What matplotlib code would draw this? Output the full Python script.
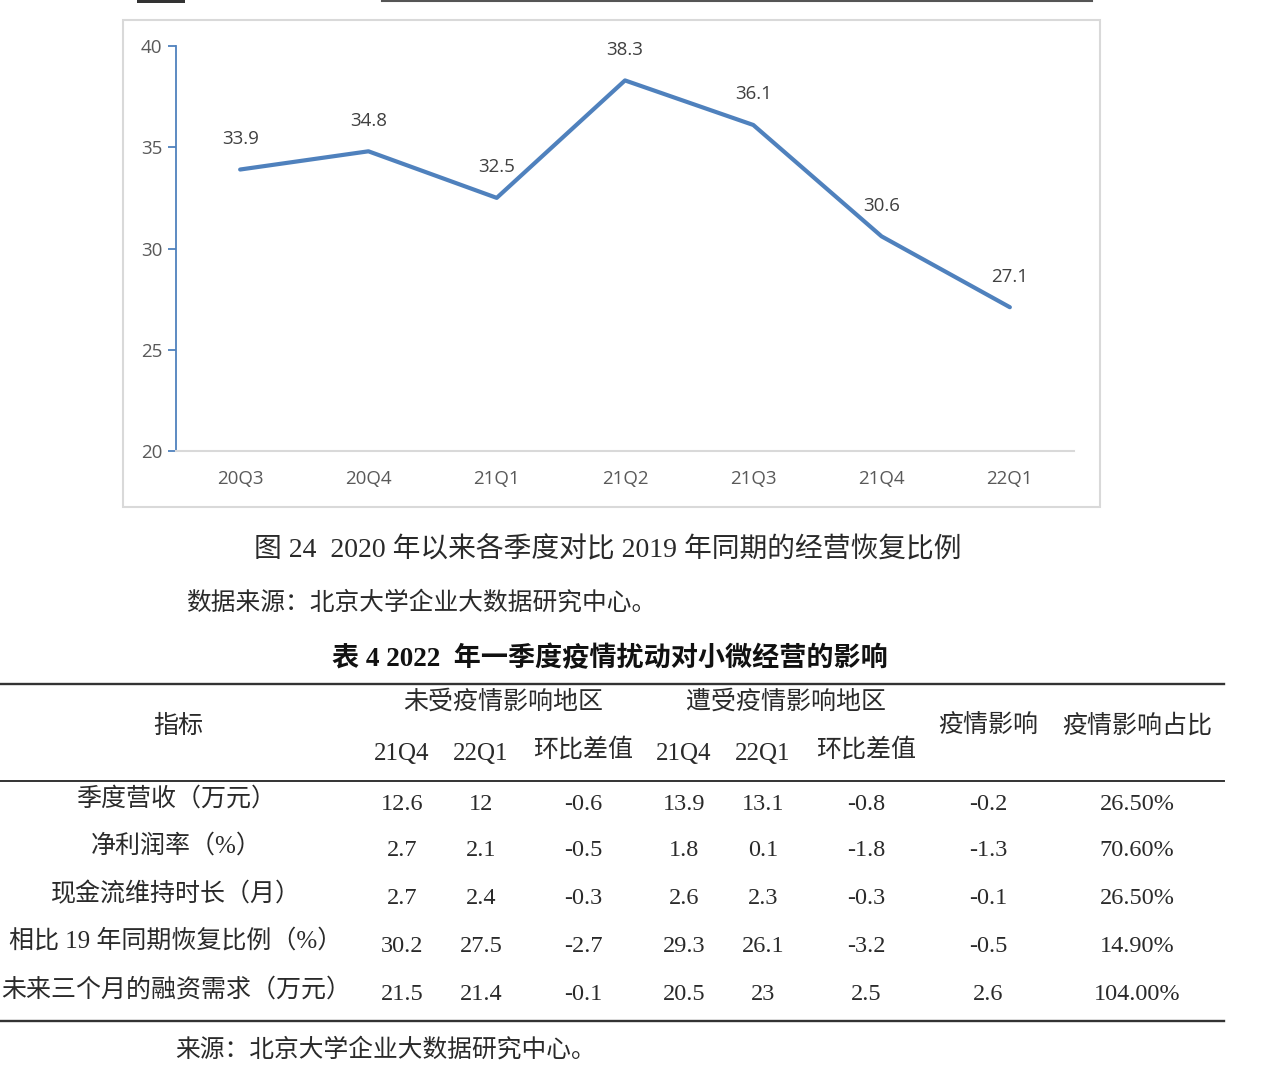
import matplotlib
matplotlib.use("Agg")
import matplotlib.pyplot as plt
from matplotlib.patches import Rectangle

plt.rcParams['font.family'] = ['Liberation Serif', 'Noto Sans CJK SC', 'DejaVu Sans']

# chart data (recovery ratio vs same quarter of 2019)
quarters = ["20Q3", "20Q4", "21Q1", "21Q2", "21Q3", "21Q4", "22Q1"]
recovery = [33.9, 34.8, 32.5, 38.3, 36.1, 30.6, 27.1]
y_ticks = [20, 25, 30, 35, 40]

# table data
row_labels = ["季度营收（万元）", "净利润率（%）", "现金流维持时长（月）",
              "相比 19 年同期恢复比例（%）", "未来三个月的融资需求（万元）"]
group_headers = ["未受疫情影响地区", "遭受疫情影响地区"]
sub_headers = ["21Q4", "22Q1", "环比差值"]
unaffected_21q4 = ["12.6", "2.7", "2.7", "30.2", "21.5"]
unaffected_22q1 = ["12", "2.1", "2.4", "27.5", "21.4"]
unaffected_diff = ["-0.6", "-0.5", "-0.3", "-2.7", "-0.1"]
affected_21q4 = ["13.9", "1.8", "2.6", "29.3", "20.5"]
affected_22q1 = ["13.1", "0.1", "2.3", "26.1", "23"]
affected_diff = ["-0.8", "-1.8", "-0.3", "-3.2", "2.5"]
impact = ["-0.2", "-1.3", "-0.1", "-0.5", "2.6"]
impact_share = ["26.50%", "70.60%", "26.50%", "14.90%", "104.00%"]

W, H = 1267, 1080
TXT = "#2a2a2a"
BLUE = "#4f81bd"

fig = plt.figure(figsize=(W / 100, H / 100), dpi=100)
fig.patch.set_facecolor("white")

# page overlay in pixel coords
page = fig.add_axes([0, 0, 1, 1])
page.set_xlim(0, W)
page.set_ylim(H, 0)
page.axis("off")

# cut-off line from the previous page element
page.add_patch(Rectangle((137, 0), 48, 3, color="#333333", lw=0))
page.plot([382, 1092], [1, 1], color="#555555", lw=1.5)

# chart frame
page.add_patch(Rectangle((123, 20), 977, 487, fill=False, ec="#d9d9d9", lw=1.5))

# line chart
ax = fig.add_axes([176 / W, (H - 451) / H, (1074 - 176) / W, (451 - 46) / H])
x = list(range(len(quarters)))
ax.plot(x, recovery, color=BLUE, lw=3, solid_joinstyle="round", solid_capstyle="round")
for xi, v in zip(x, recovery):
    ax.annotate(f"{v}", (xi, v), xytext=(0, 22), textcoords="offset points",
                ha="center", va="center", fontsize=13.5, color="#404040",
                family="Open Sans")
ax.set_xlim(-0.5, len(quarters) - 0.5)
ax.set_ylim(20, 40)
ax.set_yticks(y_ticks)
ax.set_xticks(x)
ax.set_xticklabels(quarters)
for s in ["top", "right"]:
    ax.spines[s].set_visible(False)
ax.spines["left"].set_color(BLUE)
ax.spines["left"].set_linewidth(1.3)
ax.spines["bottom"].set_color("#d9d9d9")
ax.spines["bottom"].set_linewidth(1.5)
ax.tick_params(axis="y", length=6, width=1.3, color=BLUE, labelsize=13.5,
               labelcolor="#595959", labelfontfamily="Open Sans", pad=4)
ax.tick_params(axis="x", length=0, labelsize=13.5, labelcolor="#595959",
               labelfontfamily="Open Sans", pad=14)
ax.set_facecolor("none")

# captions
page.text(608, 550, "图 24  2020 年以来各季度对比 2019 年同期的经营恢复比例",
          ha="center", va="center", fontsize=20, color=TXT)
page.text(186, 603, "数据来源：北京大学企业大数据研究中心。",
          ha="left", va="center", fontsize=17.8, color=TXT)
page.text(610, 659, "表 4 2022  年一季度疫情扰动对小微经营的影响",
          ha="center", va="center", fontsize=19.5, fontweight="bold", color="#111111")

# table
page.plot([0, 1224], [684, 684], color="#333333", lw=1.7)
page.plot([0, 1224], [781, 781], color="#333333", lw=1.4)
page.plot([0, 1224], [1021, 1021], color="#333333", lw=1.7)

col_x = [402, 481, 583, 684, 763, 866, 988, 1137]
label_x = 176
row_y = [804, 851, 899, 946, 995]
fs = 18

page.text(178, 726, "指标", ha="center", va="center", fontsize=fs, color=TXT)
page.text(503, 702, group_headers[0], ha="center", va="center", fontsize=fs, color=TXT)
page.text(786, 702, group_headers[1], ha="center", va="center", fontsize=fs, color=TXT)
for i, h in enumerate(sub_headers * 2):
    page.text(col_x[i], 754 if "Q" in h else 750, h, ha="center", va="center",
              fontsize=fs, color=TXT)
page.text(col_x[6], 726, "疫情影响", ha="center", va="center", fontsize=fs, color=TXT)
page.text(col_x[7], 726, "疫情影响占比", ha="center", va="center", fontsize=fs, color=TXT)

columns = [unaffected_21q4, unaffected_22q1, unaffected_diff,
           affected_21q4, affected_22q1, affected_diff, impact, impact_share]
for r, label in enumerate(row_labels):
    page.text(label_x, row_y[r] - 5, label, ha="center", va="center", fontsize=fs, color=TXT)
    for c, col in enumerate(columns):
        page.text(col_x[c], row_y[r], col[r], ha="center", va="center", fontsize=17.5, color=TXT)

page.text(175, 1050, "来源：北京大学企业大数据研究中心。",
          ha="left", va="center", fontsize=17.8, color=TXT)

fig.savefig("out.png", dpi=100)
